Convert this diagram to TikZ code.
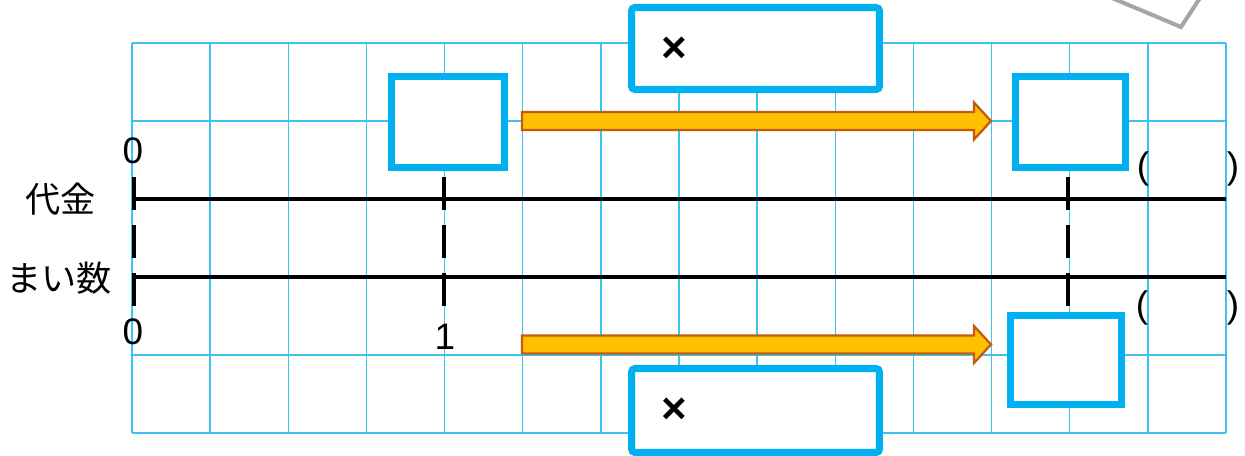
\documentclass[tikz,border=0pt]{standalone}
\usepackage{fontspec}
\setmainfont{Liberation Sans}
\newfontfamily\jp{Noto Sans CJK JP}
\usepackage{xcolor}
\definecolor{masu}{RGB}{60,195,240}
\definecolor{waku}{RGB}{0,176,240}
\definecolor{yajirushi}{RGB}{255,192,0}
\definecolor{fuchi}{RGB}{197,90,17}

\begin{document}
\begin{tikzpicture}[x=0.02cm,y=-0.02cm,
    masume/.style={draw=masu,line width=0.8pt},
    senbun/.style={draw=black,line width=2.3pt},
    memori/.style={draw=black,line width=2.3pt,dash pattern=on 0.66cm off 0.3cm},
    kotae/.style={draw=waku,fill=white,line width=4pt,inner sep=0pt},
    yaji/.style={fill=yajirushi,draw=fuchi,line width=1.3pt,line join=miter},
    suuji/.style={font=\fontsize{21}{24}\selectfont,inner sep=0pt},
    kotoba/.style={font=\jp\fontsize{20}{22}\selectfont,inner sep=0pt}]
  \useasboundingbox (0,0) rectangle (1245,456);
  \def\w{78.14} % ます目の幅

  % ます目
  \foreach \i in {0,...,14}
    \draw[masume] ({132+\w*\i},43) -- ({132+\w*\i},433);
  \foreach \j in {0,...,5}
    \draw[masume] (132,{43+78*\j}) -- (1226,{43+78*\j});

  % 数直線
  \draw[senbun] (134,199) -- (1226,199);
  \draw[senbun] (134,277) -- (1226,277);
  \foreach \x in {134,444,1068}
    \draw[memori] (\x,177) -- (\x,306);

  % 目もり
  \node[kotoba] (daikin) at (61,199) {代金};
  \node[kotoba] (maisu) at (59,278) {まい数};
  \node[suuji] (zero1) at (133,151) {0};
  \node[suuji] (zero2) at (133,332) {0};
  \node[suuji] (ichi) at (445,337) {1};

  % 矢印
  \coordinate (yaA) at (522,121);
  \coordinate (yaB) at (522,344.5);
  \foreach \p in {yaA,yaB}
    \draw[yaji] (\p) ++(0,-9) -- ++(452,0) -- ++(0,-9.5) -- ++(17,18.5)
      -- ++(-17,18.5) -- ++(0,-9.5) -- ++(-452,0) -- cycle;

  % 答えのわく
  \node[kotae,minimum width=2.26cm,minimum height=1.82cm] (boxA) at (448,122) {};
  \node[kotae,rounded corners=2pt,minimum width=4.96cm,minimum height=1.64cm] (boxB) at (755.5,48.5) {};
  \node[kotae,rounded corners=2pt,minimum width=4.96cm,minimum height=1.68cm] (boxC) at (755.5,410.5) {};
  \node[kotae,minimum width=2.2cm,minimum height=1.82cm] (boxD) at (1070.5,122) {};
  \node[kotae,minimum width=2.22cm,minimum height=1.78cm] (boxE) at (1066,360) {};
  \node[suuji,font=\bfseries\fontsize{25}{28}\selectfont] (kakeru1) at (674,50) {×};
  \node[suuji,font=\bfseries\fontsize{25}{28}\selectfont] (kakeru2) at (674,411) {×};

  % かっこ
  \node[suuji] (kakko1) at (1143,169) {(};
  \node[suuji] (kakko2) at (1233,169) {)};
  \node[suuji] (kakko3) at (1142,308) {(};
  \node[suuji] (kakko4) at (1233,308) {)};

  % 右上のわく
  \draw[black!35,line width=2.3pt] (1112,-2) -- (1181,27) -- (1200,-2);
\end{tikzpicture}
\end{document}
